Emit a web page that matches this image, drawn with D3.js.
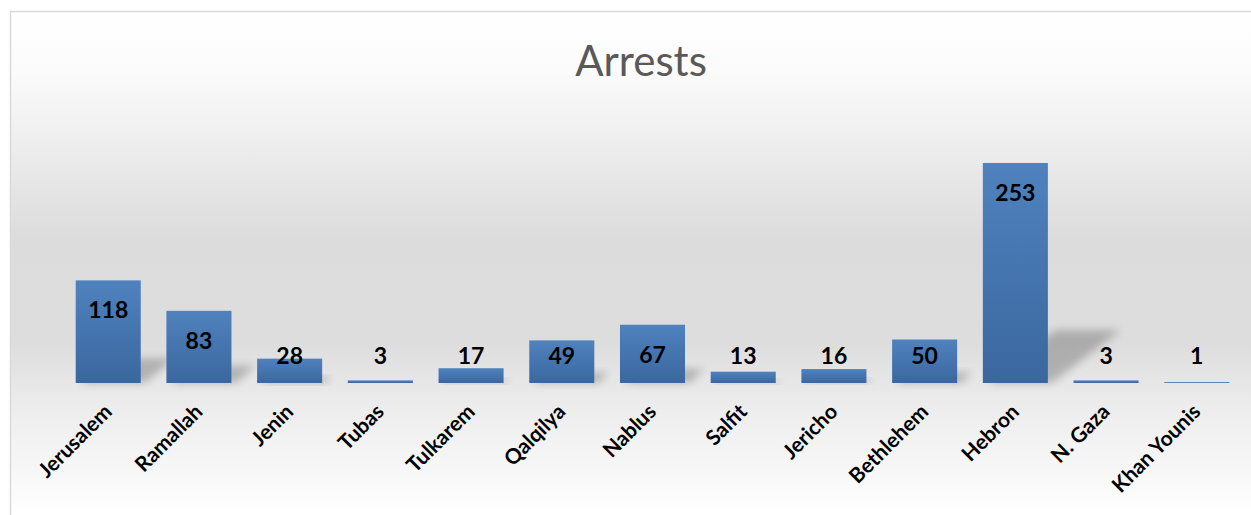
<!DOCTYPE html>
<html>
<head>
<meta charset="utf-8">
<script src="https://cdn.jsdelivr.net/npm/d3@7/dist/d3.min.js"></script>
<style>
  html, body { margin: 0; padding: 0; background: #fff; }
  #chart { width: 1251px; height: 515px; }
</style>
</head>
<body>
<div id="chart"></div>
<script>
// Data
const categories = ['Jerusalem', 'Ramallah', 'Jenin', 'Tubas', 'Tulkarem', 'Qalqilya', 'Nablus',
  'Salfit', 'Jericho', 'Bethlehem', 'Hebron', 'N. Gaza', 'Khan Younis'];
const arrests = [118, 83, 28, 3, 17, 49, 67, 13, 16, 50, 253, 3, 1];
const title = 'Arrests';

const data = categories.map((c, i) => ({ name: c, value: arrests[i] }));

const width = 1251;
const height = 515;
const baseline = 383;

const svg = d3.select('#chart')
  .append('svg')
  .attr('width', width)
  .attr('height', height);

const defs = svg.append('defs');

// chart area background
const bg = defs.append('linearGradient')
  .attr('id', 'bg')
  .attr('gradientUnits', 'userSpaceOnUse')
  .attr('x1', 0).attr('y1', 11).attr('x2', 0).attr('y2', 515);
bg.append('stop').attr('offset', '0%').attr('stop-color', '#ffffff');
bg.append('stop').attr('offset', '12%').attr('stop-color', '#fbfbfb');
bg.append('stop').attr('offset', '45%').attr('stop-color', '#dcdcdc');
bg.append('stop').attr('offset', '66%').attr('stop-color', '#dddddd');
bg.append('stop').attr('offset', '78%').attr('stop-color', '#ececec');
bg.append('stop').attr('offset', '100%').attr('stop-color', '#ffffff');

const barGrad = defs.append('linearGradient')
  .attr('id', 'bar')
  .attr('x1', 0).attr('y1', 0).attr('x2', 0).attr('y2', 1);
barGrad.append('stop').attr('offset', '0%').attr('stop-color', '#4f82be');
barGrad.append('stop').attr('offset', '100%').attr('stop-color', '#3b679f');

const blur = defs.append('filter')
  .attr('id', 'blur')
  .attr('x', '-50%').attr('y', '-50%').attr('width', '200%').attr('height', '200%');
blur.append('feGaussianBlur').attr('stdDeviation', 4);

svg.append('rect')
  .attr('x', 10.5).attr('y', 11.5)
  .attr('width', 1260).attr('height', 520)
  .attr('fill', 'url(#bg)')
  .attr('stroke', '#d9d9d9')
  .attr('stroke-width', 1.5);

// Scales
const x = d3.scaleBand()
  .domain(categories)
  .range([63, 1242])
  .paddingInner(0.283)
  .paddingOuter(0.14);

const y = d3.scaleLinear()
  .domain([0, 300])
  .range([baseline, baseline - 300 * 0.8696]);

// Title
svg.append('text')
  .attr('x', 641)
  .attr('y', 76)
  .attr('text-anchor', 'middle')
  .attr('font-family', 'Lato, "Open Sans", sans-serif')
  .attr('font-size', 42)
  .attr('fill', '#595959')
  .text(title);

// Shadows
svg.append('g')
  .selectAll('polygon')
  .data(data)
  .enter()
  .append('polygon')
  .attr('points', d => {
    const x0 = x(d.name), x1 = x0 + x.bandwidth();
    const h = baseline - y(d.value);
    const sh = h * 0.24, dx = h * 0.33;
    return [[x0 + 4, baseline], [x1 + 4, baseline], [x1 + dx, baseline - sh], [x0 + dx, baseline - sh]].join(' ');
  })
  .attr('fill', '#000')
  .attr('opacity', 0.22)
  .attr('filter', 'url(#blur)');

// Bars
svg.append('g')
  .selectAll('rect')
  .data(data)
  .enter()
  .append('rect')
  .attr('x', d => x(d.name))
  .attr('y', d => y(d.value))
  .attr('width', x.bandwidth())
  .attr('height', d => baseline - y(d.value))
  .attr('fill', 'url(#bar)');

// Value labels
svg.append('g')
  .selectAll('text')
  .data(data)
  .enter()
  .append('text')
  .attr('x', d => x(d.name) + x.bandwidth() / 2)
  .attr('y', d => Math.min(y(d.value) + 30, 356))
  .attr('dy', '0.35em')
  .attr('text-anchor', 'middle')
  .attr('font-family', 'Lato, "Open Sans", sans-serif')
  .attr('font-weight', 'bold')
  .attr('font-size', 23)
  .attr('fill', '#000')
  .text(d => d.value);

// X axis labels
const xAxis = svg.append('g')
  .attr('transform', `translate(0, ${baseline})`)
  .call(d3.axisBottom(x).tickSize(0).tickPadding(0));
xAxis.select('.domain').remove();
xAxis.selectAll('text')
  .attr('font-family', 'Lato, "Open Sans", sans-serif')
  .attr('font-weight', 'bold')
  .attr('font-size', 21)
  .attr('fill', '#000')
  .attr('text-anchor', 'end')
  .attr('dy', null)
  .attr('y', 0)
  .attr('transform', 'translate(5, 30) rotate(-45)');
</script>
</body>
</html>
